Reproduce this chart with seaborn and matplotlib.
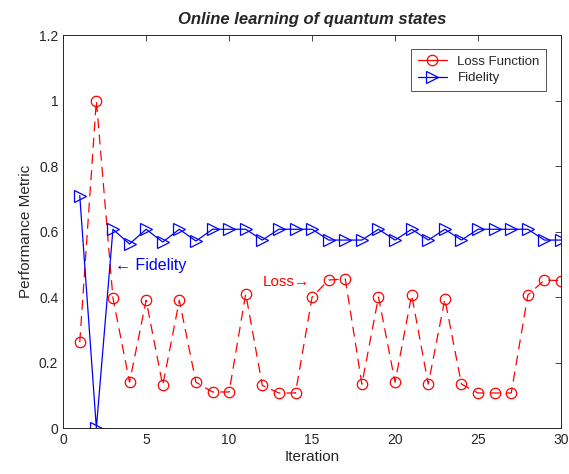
import pandas as pd
import numpy as np
import matplotlib
matplotlib.use("Agg")
from matplotlib import pyplot as plt
import seaborn as sns

# data
iteration = list(range(1, 31))
loss = [0.262, 1.0, 0.397, 0.14, 0.39, 0.13, 0.39, 0.14, 0.11, 0.11,
        0.41, 0.13, 0.107, 0.107, 0.40, 0.452, 0.455, 0.134, 0.40, 0.14,
        0.406, 0.134, 0.394, 0.134, 0.107, 0.107, 0.107, 0.406, 0.452, 0.45]
fidelity = [0.71, 0.0, 0.607, 0.562, 0.607, 0.568, 0.607, 0.571, 0.607, 0.607,
            0.607, 0.574, 0.607, 0.607, 0.607, 0.574, 0.574, 0.574, 0.607, 0.574,
            0.607, 0.574, 0.607, 0.574, 0.607, 0.607, 0.607, 0.607, 0.574, 0.574]

df = pd.DataFrame({"Iteration": iteration, "Loss": loss, "Fidelity": fidelity})

sns.set_style("white")
plt.rcParams["font.family"] = ["Liberation Sans", "DejaVu Sans"]

fig = plt.figure(figsize=(5.69, 4.74), dpi=100)
ax = fig.add_axes([0.111, 0.097, 0.875, 0.829])

sns.lineplot(data=df, x="Iteration", y="Loss", ax=ax, color="red",
             linestyle=(0, (8, 5)), linewidth=0.9, marker="o", markersize=7.5,
             markerfacecolor="none", markeredgecolor="red", markeredgewidth=0.9,
             label="Loss Function")
sns.lineplot(data=df, x="Iteration", y="Fidelity", ax=ax, color="blue",
             linewidth=0.9, marker=">", markersize=8,
             markerfacecolor="none", markeredgecolor="blue", markeredgewidth=0.9,
             label="Fidelity")

ax.set_xlim(0, 30)
ax.set_ylim(0, 1.2)
ax.set_xticks(np.arange(0, 31, 5))
ax.set_yticks(np.arange(0, 1.21, 0.2))
ax.set_yticklabels(["0", "0.2", "0.4", "0.6", "0.8", "1", "1.2"])
ax.tick_params(direction="in", length=4, width=0.6, labelsize=10,
               top=True, right=True, colors="#262626")
for s in ax.spines.values():
    s.set_linewidth(0.7)
    s.set_color("#262626")

ax.set_xlabel("Iteration", fontsize=11, labelpad=2)
ax.set_ylabel("Performance Metric", fontsize=11)
ax.set_title("Online learning of quantum states", fontsize=12,
             fontweight="bold", fontstyle="italic", pad=8)

ax.text(3.1, 0.495, "\u2190 Fidelity", color="blue", fontsize=11.5, va="center")
ax.text(12.0, 0.445, "Loss\u2192", color="red", fontsize=11, va="center")

leg = ax.legend(loc="upper right", bbox_to_anchor=(0.984, 0.982), fontsize=9.5,
                frameon=True, fancybox=False, edgecolor="#262626",
                handlelength=2.2, borderpad=0.5, labelspacing=0.35)
leg.get_frame().set_linewidth(0.7)
# legend sample for the loss is drawn solid, as in the reference
leg.get_lines()[0].set_linestyle("-")

fig.savefig("out.png", dpi=100)
